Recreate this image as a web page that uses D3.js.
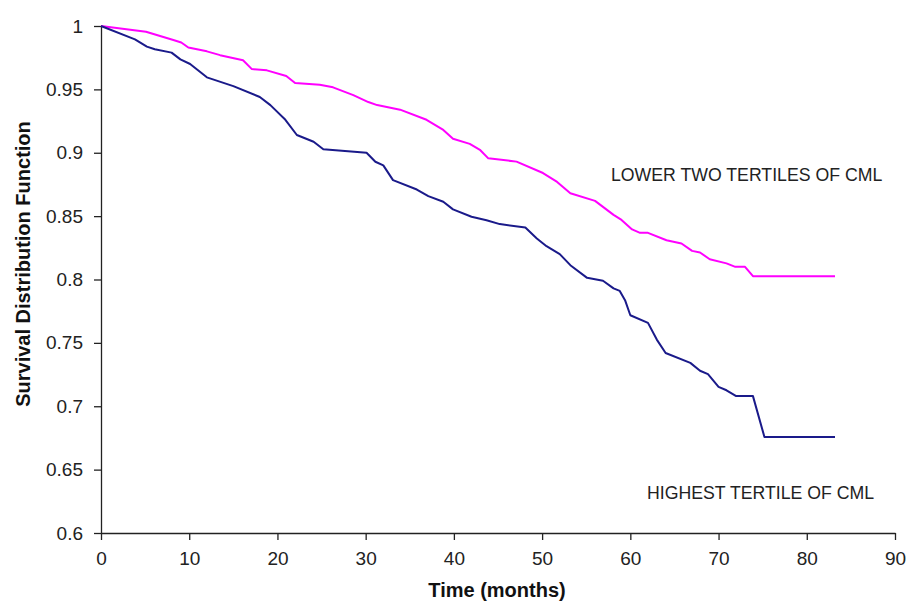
<!DOCTYPE html>
<html>
<head>
<meta charset="utf-8">
<script src="https://cdn.jsdelivr.net/npm/d3@7/dist/d3.min.js"></script>
<style>
  body { margin: 0; background: #fff; }
  svg { font-family: "Liberation Sans", Arial, sans-serif; }
</style>
</head>
<body>
<div id="chart"></div>
<script>
// Survival curves by CML tertile
const xTicks = [0, 10, 20, 30, 40, 50, 60, 70, 80, 90];
const yTicks = [0.6, 0.65, 0.7, 0.75, 0.8, 0.85, 0.9, 0.95, 1];
const yTickLabels = ["0.6", "0.65", "0.7", "0.75", "0.8", "0.85", "0.9", "0.95", "1"];

const lowerTimes = [0, 5.1, 8.2, 9.1, 9.9, 12, 13.5, 16.1, 17.1, 18.8, 21, 22, 24.8, 26.3, 28.6, 30.3, 31.3, 33.9, 36.9, 38.8, 39.9, 41.8, 43, 43.9, 47.1, 50.1, 51.7, 53.2, 56, 58.1, 59, 60.2, 61.1, 62, 64.1, 65.8, 67, 67.9, 69, 70.9, 71.9, 73, 73.9, 83.2];
const lowerSurvival = [1, 0.9955, 0.989, 0.987, 0.983, 0.98, 0.977, 0.973, 0.966, 0.965, 0.9605, 0.955, 0.9537, 0.9516, 0.9455, 0.94, 0.9376, 0.934, 0.926, 0.918, 0.911, 0.907, 0.902, 0.8956, 0.893, 0.884, 0.877, 0.868, 0.862, 0.851, 0.847, 0.8395, 0.8368, 0.8368, 0.831, 0.8284, 0.8226, 0.8213, 0.816, 0.8127, 0.81, 0.81, 0.8026, 0.8026];

const highestTimes = [0, 3.85, 5.2, 6.1, 8, 9, 10.1, 12, 15, 18, 19.2, 20.9, 22.2, 24.1, 25.2, 30.1, 31.1, 32, 33.1, 35.8, 37.1, 38.8, 39.9, 42, 43.7, 45.2, 48.1, 49.4, 50.5, 52, 53.2, 55.1, 56.9, 58.1, 58.8, 59.4, 60, 62, 63, 64, 66.8, 67.9, 68.8, 70, 70.9, 72, 73.9, 75.2, 83.2];
const highestSurvival = [1, 0.9895, 0.9837, 0.9816, 0.979, 0.9737, 0.97, 0.9595, 0.9526, 0.944, 0.9376, 0.926, 0.914, 0.9087, 0.9027, 0.9, 0.8929, 0.89, 0.8784, 0.871, 0.8658, 0.8613, 0.8553, 0.8495, 0.8468, 0.8437, 0.841, 0.8324, 0.8263, 0.82, 0.8113, 0.8013, 0.799, 0.793, 0.791, 0.7837, 0.7718, 0.7658, 0.7526, 0.742, 0.7342, 0.728, 0.7253, 0.7153, 0.7126, 0.708, 0.708, 0.6758, 0.6758];

const seriesNames = ["LOWER TWO TERTILES OF CML", "HIGHEST TERTILE OF CML"];
const seriesColors = ["#ff00ff", "#1a1a8a"];

{
    const W = 907, H = 605;
    const margin = { top: 26, right: 12, bottom: 72, left: 101 };

    const svg = d3.select("#chart").append("svg")
        .attr("width", W)
        .attr("height", H);

    const x = d3.scaleLinear().domain([0, 90]).range([margin.left, 895]);
    const y = d3.scaleLinear().domain([0.6, 1]).range([533, margin.top]);

    // Axes
    const xAxis = svg.append("g")
        .attr("transform", `translate(0,${y(0.6)})`)
        .call(d3.axisBottom(x).tickValues(xTicks).tickSize(7).tickSizeOuter(0).tickPadding(12));

    const yAxis = svg.append("g")
        .attr("transform", `translate(${x(0)},0)`)
        .call(d3.axisLeft(y).tickValues(yTicks).tickSize(7).tickSizeOuter(0).tickPadding(11)
            .tickFormat((d, i) => yTickLabels[i]));

    [xAxis, yAxis].forEach(g => {
        g.attr("font-size", 19).attr("font-family", "'Liberation Sans', Arial, sans-serif");
        g.selectAll("path, line").attr("stroke", "#222").attr("stroke-width", 1.3);
        g.selectAll("text").attr("fill", "#222");
    });

    // Lines
    const line = d3.line().x(d => x(d[0])).y(d => y(d[1]));
    const series = [
        d3.zip(lowerTimes, lowerSurvival),
        d3.zip(highestTimes, highestSurvival)
    ];

    svg.selectAll(".curve")
        .data(series)
        .join("path")
        .attr("class", "curve")
        .attr("fill", "none")
        .attr("stroke", (d, i) => seriesColors[i])
        .attr("stroke-width", 2)
        .attr("stroke-linejoin", "round")
        .attr("d", line);

    // Curve labels
    svg.append("text")
        .attr("x", 611).attr("y", 181)
        .attr("fill", "#222")
        .style("font-size", "17.7px")
        .text(seriesNames[0]);

    svg.append("text")
        .attr("x", 647).attr("y", 499)
        .attr("fill", "#222")
        .style("font-size", "17.7px")
        .text(seriesNames[1]);

    // Axis titles
    svg.append("text")
        .attr("x", 497).attr("y", 597)
        .attr("text-anchor", "middle")
        .attr("fill", "#111")
        .style("font-size", "20px")
        .style("font-weight", "bold")
        .text("Time (months)");

    svg.append("text")
        .attr("transform", `translate(30,264) rotate(-90)`)
        .attr("text-anchor", "middle")
        .attr("fill", "#111")
        .style("font-size", "20px")
        .style("font-weight", "bold")
        .text("Survival Distribution Function");
}
</script>
</body>
</html>
